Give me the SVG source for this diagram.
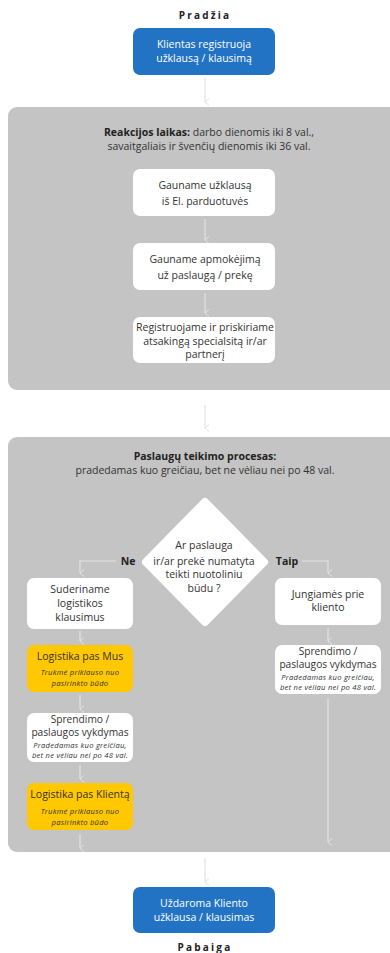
<svg xmlns="http://www.w3.org/2000/svg" width="390" height="953" viewBox="0 0 390 953">
<defs>
<marker id="ah" viewBox="0 0 8 6" refX="4" refY="5.5" markerWidth="8" markerHeight="6" markerUnits="userSpaceOnUse" orient="auto-start-reverse">
<path d="M0.5,1.5 L4,5.5 L7.5,1.5" fill="none" stroke="#e2e2e2" stroke-width="1"/>
</marker>
<style>
text{font-family:"Open Sans","Liberation Sans",sans-serif;fill:#333;text-anchor:middle}
.panel{fill:#c4c4c4}
.wb{fill:#fff}
.bb{fill:#2373c4}
.yb{fill:#ffc800}
.wt{fill:#fff;font-size:10.5px}
.t{font-size:10.5px}
.h{font-size:10.5px;font-weight:700;fill:#222}
.big{font-size:10.5px}
.sp{font-size:10.2px}
.it{font-size:7.6px;font-style:italic;letter-spacing:0.25px}
.lbl{font-size:10px;font-weight:700;fill:#222;letter-spacing:2.2px}
.yn{font-size:10.5px;font-weight:700;fill:#222}
.c{fill:none;stroke:#e2e2e2;stroke-width:1.2}
</style>
</defs>

<g id="panel-1"><rect class="panel" x="8" y="107" width="400" height="283" rx="9"/></g>
<g id="panel-2"><rect class="panel" x="8" y="437" width="400" height="415" rx="9"/></g>

<g id="connectors">
<path class="c" d="M205,78 V102" marker-end="url(#ah)"/>
<path class="c" d="M205,219 V240" marker-end="url(#ah)"/>
<path class="c" d="M205,293 V313" marker-end="url(#ah)"/>
<path class="c" d="M205,405 V428" marker-end="url(#ah)"/>
<path class="c" d="M116,561 H80 V573" marker-end="url(#ah)"/>
<path class="c" d="M302,561 H328 V573" marker-end="url(#ah)"/>
<path class="c" d="M80,631 V641" marker-end="url(#ah)"/>
<path class="c" d="M80,695 V709" marker-end="url(#ah)"/>
<path class="c" d="M80,765 V779" marker-end="url(#ah)"/>
<path class="c" d="M80,834 V848" marker-end="url(#ah)"/>
<path class="c" d="M328,628 V641" marker-end="url(#ah)"/>
<path class="c" d="M328,698 V842" marker-end="url(#ah)"/>
<path class="c" d="M205,858 V882" marker-end="url(#ah)"/>
</g>

<g id="start-label"><text class="lbl" x="205" y="19">Pradžia</text></g>

<g id="start">
<rect class="bb" x="133" y="28" width="142" height="47" rx="7"/>
<text class="wt" x="204" y="48">Klientas registruoja</text>
<text class="wt" x="204" y="62">užklausą / klausimą</text>
</g>

<g id="reaction-text">
<text class="t" x="209" y="136"><tspan font-weight="700" fill="#222">Reakcijos laikas:</tspan> darbo dienomis iki 8 val.,</text>
<text class="t" x="209" y="150">savaitgaliais ir švenčių dienomis iki 36 val.</text>
</g>

<g id="n1">
<rect class="wb" x="133" y="169" width="142" height="47" rx="7"/>
<text class="t" x="205" y="189">Gauname užklausą</text>
<text class="t" x="205" y="205">iš El. parduotuvės</text>
</g>

<g id="n2">
<rect class="wb" x="133" y="243" width="142" height="47" rx="7"/>
<text class="t" x="205" y="263">Gauname apmokėjimą</text>
<text class="t" x="205" y="279">už paslaugą / prekę</text>
</g>

<g id="n3">
<rect class="wb" x="133" y="317" width="142" height="46" rx="7"/>
<text class="t" x="205" y="331">Registruojame ir priskiriame</text>
<text class="t" x="205" y="345">atsakingą specialsitą ir/ar</text>
<text class="t" x="205" y="358">partnerį</text>
</g>

<g id="process-text">
<text class="h" x="205" y="460">Paslaugų teikimo procesas:</text>
<text class="t" x="205" y="474">pradedamas kuo greičiau, bet ne vėliau nei po 48 val.</text>
</g>

<g id="decision">
<path d="M205,502 L264,562 L205,622 L146,562 Z" fill="#fff" stroke="#fff" stroke-width="8" stroke-linejoin="round"/>
<text class="t" x="204" y="549">Ar paslauga</text>
<text class="t" x="204" y="565">ir/ar prekė numatyta</text>
<text class="t" x="204" y="578">teikti nuotoliniu</text>
<text class="t" x="204" y="592">būdu ?</text>
</g>

<g id="label-ne"><text class="yn" x="128" y="565">Ne</text></g>
<g id="label-taip"><text class="yn" x="287" y="565">Taip</text></g>

<g id="suderiname">
<rect class="wb" x="27" y="578" width="106" height="51" rx="7"/>
<text class="t" x="80" y="593">Suderiname</text>
<text class="t" x="80" y="607">logistikos</text>
<text class="t" x="80" y="621">klausimus</text>
</g>

<g id="logistika-mus">
<rect class="yb" x="27" y="645" width="106" height="47" rx="7"/>
<text class="big" x="80" y="660">Logistika pas Mus</text>
<text class="it" x="80" y="675">Trukmė priklauso nuo</text>
<text class="it" x="80" y="686">pasirinkto būdo</text>
</g>

<g id="sprendimas-left">
<rect class="wb" x="27" y="713" width="106" height="49" rx="7"/>
<text class="sp" x="80" y="723">Sprendimo /</text>
<text class="sp" x="80" y="736">paslaugos vykdymas</text>
<text class="it" x="80" y="747.5">Pradedamas kuo greičiau,</text>
<text class="it" x="80" y="758">bet ne vėliau nei po 48 val.</text>
</g>

<g id="logistika-klienta">
<rect class="yb" x="27" y="783" width="106" height="47" rx="7"/>
<text class="big" x="80" y="798">Logistika pas Klientą</text>
<text class="it" x="80" y="814">Trukmė priklauso nuo</text>
<text class="it" x="80" y="825">pasirinkto būdo</text>
</g>

<g id="jungiames">
<rect class="wb" x="275" y="578" width="106" height="47" rx="7"/>
<text class="t" x="328" y="598">Jungiamės prie</text>
<text class="t" x="328" y="611">kliento</text>
</g>

<g id="sprendimas-right">
<rect class="wb" x="275" y="645" width="106" height="49" rx="7"/>
<text class="sp" x="328" y="655">Sprendimo /</text>
<text class="sp" x="328" y="668">paslaugos vykdymas</text>
<text class="it" x="328" y="679.5">Pradedamas kuo greičiau,</text>
<text class="it" x="328" y="690">bet ne vėliau nei po 48 val.</text>
</g>

<g id="end">
<rect class="bb" x="133" y="887" width="142" height="46" rx="7"/>
<text class="wt" x="204" y="907">Uždaroma Kliento</text>
<text class="wt" x="204" y="921">užklausa / klausimas</text>
</g>

<g id="end-label"><text class="lbl" x="205" y="951">Pabaiga</text></g>
</svg>
